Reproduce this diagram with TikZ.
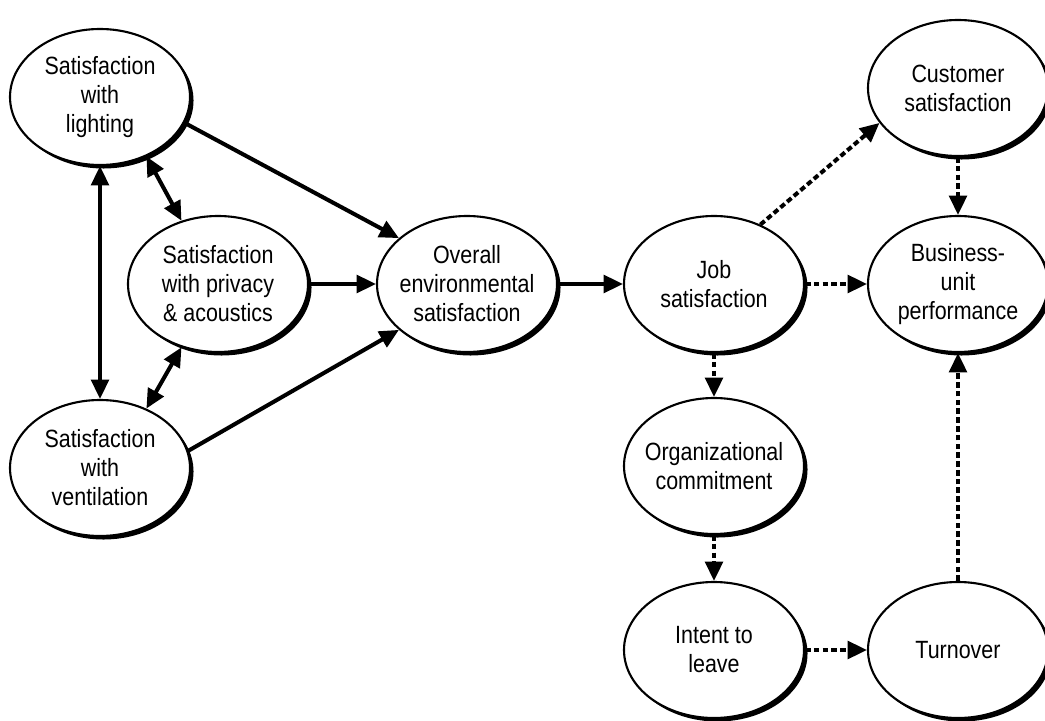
\documentclass[tikz,border=0pt]{standalone}
\usepackage{fontspec}
\setmainfont{Liberation Sans}[FakeStretch=0.86]
\usetikzlibrary{shapes.geometric,arrows.meta,shadows}

\begin{document}
\begin{tikzpicture}[
    env/.style={ellipse, draw, line width=1.2pt, fill=white,
        minimum width=3.6cm, minimum height=2.72cm,
        inner xsep=-4pt, inner ysep=0pt, align=center,
        font=\fontsize{14.2}{16.5}\selectfont,
        drop shadow={shadow xshift=2pt, shadow yshift=-2pt, fill=black, opacity=1}},
    link/.style={line width=2.3pt, -{Triangle[length=11pt,width=10pt]}},
    twoway/.style={line width=2.3pt, {Triangle[length=11pt,width=10pt]}-{Triangle[length=11pt,width=10pt]}},
    maybe/.style={link, dash pattern=on 3.2pt off 1.8pt}
]
    \useasboundingbox (0,0) rectangle (20.9,14.4);

    % Environment satisfaction
    \node[env] (light) at (2.0,12.46) {Satisfaction\\with\\lighting};
    \node[env] (privacy) at (4.36,8.72) {Satisfaction\\with privacy\\\& acoustics};
    \node[env] (vent) at (2.0,5.04) {Satisfaction\\with\\ventilation};
    \node[env] (overall) at (9.34,8.72) {Overall\\environmental\\satisfaction};

    % Work outcomes
    \node[env] (job) at (14.28,8.72) {Job\\satisfaction};
    \node[env] (org) at (14.28,5.08) {Organizational\\commitment};
    \node[env] (intent) at (14.28,1.4) {Intent to\\leave};
    \node[env] (customer) at (19.16,12.64) {Customer\\satisfaction};
    \node[env] (business) at (19.16,8.72) {Business-\\unit\\performance};
    \node[env] (turnover) at (19.16,1.4) {Turnover};

    % Solid paths
    \draw[twoway] (light) -- (vent);
    \draw[twoway] (light.-52) -- (privacy.120);
    \draw[twoway] (privacy.-120) -- (vent.52);
    \draw[link] (light.-17) -- (overall.146);
    \draw[link] (privacy) -- (overall);
    \draw[link] (vent.11) -- (overall.-146);
    \draw[link] (overall) -- (job);

    % Dashed paths
    \draw[maybe] (job.52) -- (customer.-156);
    \draw[maybe] (job) -- (business);
    \draw[maybe] (customer) -- (business);
    \draw[maybe] (job) -- (org);
    \draw[maybe] (org) -- (intent);
    \draw[maybe] (intent) -- (turnover);
    \draw[maybe] (turnover) -- (business);
\end{tikzpicture}
\end{document}
